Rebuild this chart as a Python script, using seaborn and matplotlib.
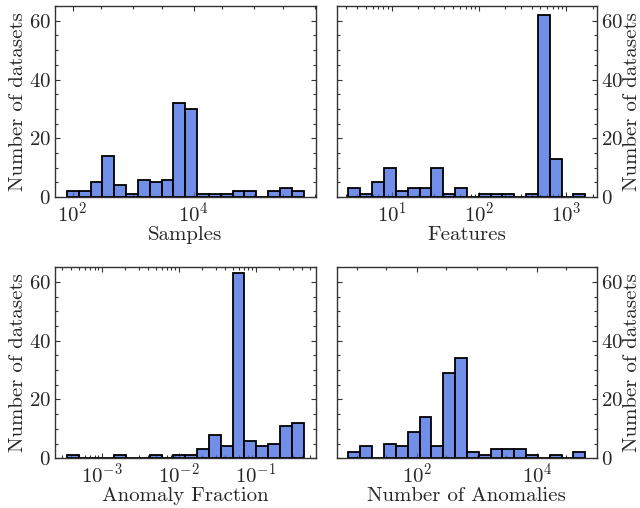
import numpy as np
import pandas as pd
import seaborn as sns
import matplotlib.pyplot as plt
from matplotlib.ticker import MultipleLocator, LogLocator, FixedLocator, NullFormatter

# ---- data: counts per log-spaced bin, and log10 range of the bin edges ----
samples_counts = [2, 2, 5, 14, 4, 1, 6, 5, 6, 32, 30, 1, 1, 1, 2, 2, 0, 2, 3, 2]
samples_log_range = (1.905, 5.82)
samples_ticks = [1e2, 1e4]

features_counts = [3, 1, 5, 10, 2, 3, 3, 10, 1, 3, 0, 1, 1, 1, 0, 1, 62, 13, 0, 1]
features_log_range = (0.502, 3.217)
features_ticks = [1e1, 1e2, 1e3]

fraction_counts = [1, 0, 0, 0, 1, 0, 0, 1, 0, 1, 1, 3, 8, 4, 63, 6, 4, 5, 11, 12]
fraction_log_range = (-3.456, -0.378)
fraction_ticks = [1e-3, 1e-2, 1e-1]

anomalies_counts = [2, 4, 0, 5, 4, 9, 14, 4, 29, 34, 2, 1, 3, 3, 3, 1, 0, 1, 0, 2]
anomalies_log_range = (0.86, 4.805)
anomalies_ticks = [1e2, 1e4]

xlabels = ["Samples", "Features", "Anomaly Fraction", "Number of Anomalies"]
ylabel = "Number of datasets"
yticks = [0, 20, 40, 60]

sns.set_theme(style="ticks")
plt.rcParams.update({
    "font.family": ["cmr10", "DejaVu Serif"],
    "mathtext.fontset": "cm",
    "axes.formatter.use_mathtext": True,
    "axes.unicode_minus": False,
    "font.size": 15,
    "axes.labelsize": 15,
    "xtick.labelsize": 15,
    "ytick.labelsize": 15,
    "axes.edgecolor": "0.2",
    "axes.linewidth": 1.0,
})

fig, axes = plt.subplots(2, 2, figsize=(6.4, 5.08), dpi=100)
fig.subplots_adjust(left=0.086, right=0.933, top=0.988, bottom=0.098,
                    wspace=0.081, hspace=0.366)

panels = [
    (samples_counts, samples_log_range, samples_ticks),
    (features_counts, features_log_range, features_ticks),
    (fraction_counts, fraction_log_range, fraction_ticks),
    (anomalies_counts, anomalies_log_range, anomalies_ticks),
]

for i, (ax, (counts, rng, xt), xl) in enumerate(zip(axes.flat, panels, xlabels)):
    n = len(counts)
    edges = np.linspace(rng[0], rng[1], n + 1)
    centers = 10 ** ((edges[:-1] + edges[1:]) / 2)
    df = pd.DataFrame({xl: centers, "count": counts})
    sns.histplot(data=df, x=xl, weights="count", bins=n, binrange=rng,
                 log_scale=True, color="royalblue", edgecolor="black",
                 linewidth=1.3, ax=ax)
    ax.set_ylim(0, 65)
    ax.set_yticks(yticks)
    ax.yaxis.set_minor_locator(MultipleLocator(5))
    ax.xaxis.set_major_locator(FixedLocator(xt))
    if len(xt) == 2:
        ax.xaxis.set_minor_locator(LogLocator(base=10, subs=(1.0, 3.0), numticks=20))
    else:
        ax.xaxis.set_minor_locator(LogLocator(base=10, subs=np.arange(2, 10), numticks=20))
    ax.xaxis.set_minor_formatter(NullFormatter())
    ax.set_xlabel(xl, labelpad=0)
    ax.tick_params(which="both", direction="in", top=True, right=True,
                   width=0.8, color="0.2")
    ax.tick_params(which="major", length=3.5, pad=3)
    ax.tick_params(which="minor", length=2)
    if i % 2 == 1:
        ax.yaxis.set_label_position("right")
        ax.tick_params(axis="y", labelleft=False, labelright=True)
        ax.set_ylabel(ylabel, labelpad=0)
    else:
        ax.set_ylabel(ylabel, labelpad=1)

fig.savefig("out.png", dpi=100)
